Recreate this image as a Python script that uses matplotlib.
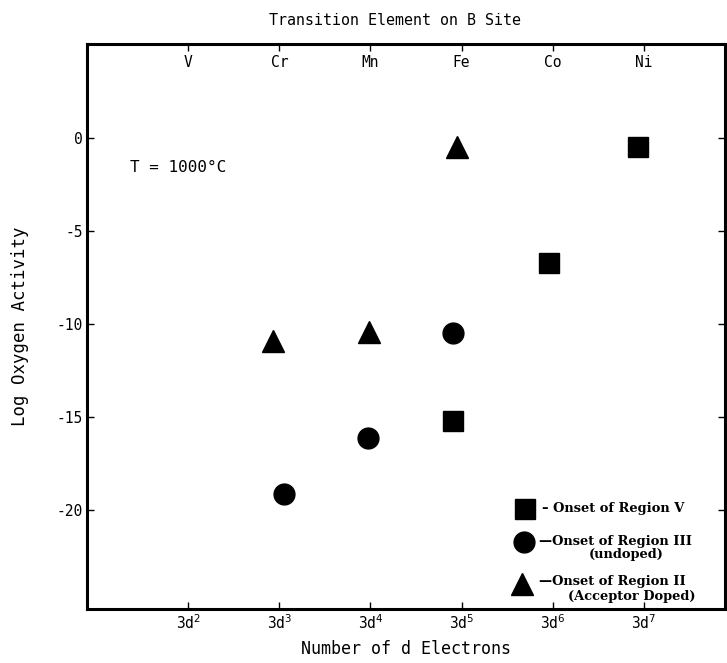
import matplotlib
matplotlib.use('Agg')
import matplotlib.pyplot as plt

plt.rcParams['axes.unicode_minus'] = False
plt.rcParams['font.family'] = ['DejaVu Sans Mono', 'DejaVu Sans']

# ---- data ----
elements = ['V', 'Cr', 'Mn', 'Fe', 'Co', 'Ni']
d_count = [2, 3, 4, 5, 6, 7]
d_labels = ['3d$^2$', '3d$^3$', '3d$^4$', '3d$^5$', '3d$^6$', '3d$^7$']
y_ticks = [0, -5, -10, -15, -20]

region_v_x = [4.91, 5.96, 6.94]
region_v_y = [-15.2, -6.7, -0.5]
region_iii_x = [3.05, 3.97, 4.91]
region_iii_y = [-19.1, -16.1, -10.5]
region_ii_x = [2.93, 3.98, 4.95]
region_ii_y = [-10.9, -10.4, -0.5]

W, H = 727, 663
fig = plt.figure(figsize=(W / 100, H / 100), dpi=100)
L, R, T, B = 87, 725, 44, 609
ax = fig.add_axes([L / W, 1 - B / H, (R - L) / W, (B - T) / H])

ax.set_xlim(0.89, 7.89)
ax.set_ylim(-25.3, 5.05)

ax.plot(region_v_x, region_v_y, 's', color='black', ms=14.4, ls='none')
ax.plot(region_iii_x, region_iii_y, 'o', color='black', ms=15, ls='none')
ax.plot(region_ii_x, region_ii_y, '^', color='black', ms=15.5, ls='none')

for s in ax.spines.values():
    s.set_linewidth(2.2)

ax.set_xticks(d_count)
ax.set_xticklabels(d_labels, fontsize=10.5)
ax.set_yticks(y_ticks)
ax.set_yticklabels([str(v) for v in y_ticks], fontsize=10.5)
ax.tick_params(axis='both', direction='in', length=5, width=1,
               top=True, right=True, pad=3)

# top element labels
for xv, el in zip(d_count, elements):
    ax.text(xv, 0.981, el, transform=ax.get_xaxis_transform(),
            ha='center', va='top', fontsize=10.5)

ax.set_title('Transition Element on B Site', fontsize=10.8, x=0.483, pad=14)
ax.set_xlabel('Number of d Electrons', fontsize=12, labelpad=6)
ax.set_ylabel('Log Oxygen Activity', fontsize=12.5, labelpad=20)

ax.text(0.067, 0.782, 'T = 1000°C', transform=ax.transAxes,
        ha='left', va='center', fontsize=11.5)

# legend (manual)
lf = dict(family='DejaVu Serif', weight='bold', fontsize=9.4)
ax.plot([0.687], [0.177], 's', color='black', ms=14, transform=ax.transAxes, clip_on=False)
ax.plot([0.685], [0.119], 'o', color='black', ms=15, transform=ax.transAxes, clip_on=False)
ax.plot([0.682], [0.044], '^', color='black', ms=15.5, transform=ax.transAxes, clip_on=False)
ax.text(0.713, 0.177, '– Onset of Region V', transform=ax.transAxes, ha='left', va='center', **lf)
ax.text(0.708, 0.120, '—Onset of Region III', transform=ax.transAxes, ha='left', va='center', **lf)
ax.text(0.845, 0.096, '(undoped)', transform=ax.transAxes, ha='center', va='center', **lf)
ax.text(0.708, 0.048, '—Onset of Region II', transform=ax.transAxes, ha='left', va='center', **lf)
ax.text(0.854, 0.023, '(Acceptor Doped)', transform=ax.transAxes, ha='center', va='center', **lf)

fig.savefig('out.png', dpi=100)
